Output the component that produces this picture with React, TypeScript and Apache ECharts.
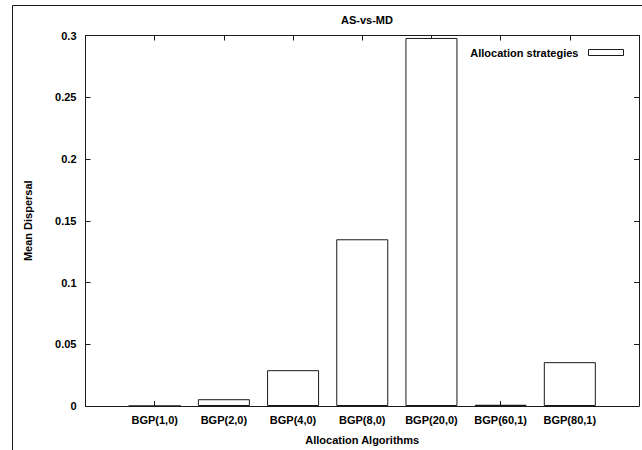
import React, { useEffect, useRef } from "react";
import * as echarts from "echarts";

const categories = ["BGP(1,0)", "BGP(2,0)", "BGP(4,0)", "BGP(8,0)", "BGP(20,0)", "BGP(60,1)", "BGP(80,1)"];
const meanDispersal = [0, 0.0055, 0.029, 0.135, 0.298, 0.001, 0.0355];
const yTicks = [0, 0.05, 0.1, 0.15, 0.2, 0.25, 0.3];
const seriesName = "Allocation strategies";
const titleText = "AS-vs-MD";
const xName = "Allocation Algorithms";
const yName = "Mean Dispersal";

const FONT = "'Liberation Sans', Arial, sans-serif";
const INK = "#1a1a1a";

export default function App() {
  const ref = useRef<HTMLDivElement>(null);
  useEffect(() => {
    if (!ref.current) return;
    const chart = echarts.init(ref.current, undefined, { renderer: "svg" });
    const labelFmt = (v: number) => {
      const i = Math.round(v);
      if (Math.abs(v - i) > 1e-6) return "";
      return categories[i] ?? "";
    };
    const yFmt = (v: number) => {
      const t = yTicks.find((y) => Math.abs(y - v) < 1e-9);
      return t === undefined ? "" : String(t);
    };
    const xCommon = {
      type: "value" as const,
      min: -1,
      max: 7,
      interval: 1,
      splitLine: { show: false },
      axisLine: { show: true, onZero: false, lineStyle: { color: INK, width: 1 } },
      axisTick: { show: true, inside: true, length: 5, lineStyle: { color: INK } },
    };
    const yCommon = {
      type: "value" as const,
      min: 0,
      max: 0.3,
      interval: 0.05,
      splitLine: { show: false },
      axisLine: { show: true, onZero: false, lineStyle: { color: INK, width: 1 } },
      axisTick: { show: true, inside: true, length: 5, lineStyle: { color: INK } },
    };
    chart.setOption({
      animation: false,
      backgroundColor: "#ffffff",
      textStyle: { fontFamily: FONT },
      title: {
        text: titleText,
        left: 362,
        top: 9,
        textAlign: "center",
        textStyle: { fontFamily: FONT, fontSize: 11, fontWeight: "bold", color: "#000" },
      },
      legend: {
        right: 13,
        top: 42,
        align: "right",
        itemWidth: 35,
        itemHeight: 6,
        icon: "rect",
        textStyle: { fontFamily: FONT, fontSize: 11, fontWeight: "bold", color: "#000", padding: [0, 5, 0, 0] },
        data: [{ name: seriesName, itemStyle: { color: "#fff", borderColor: INK, borderWidth: 1 } }],
      },
      grid: { left: 85.5, top: 35.5, right: 3, bottom: 40.5, containLabel: false },
      xAxis: [
        {
          ...xCommon,
          position: "bottom",
          name: xName,
          nameLocation: "middle",
          nameGap: 28,
          nameTextStyle: { fontFamily: FONT, fontSize: 11, fontWeight: "bold", color: "#000" },
          axisLabel: {
            show: true,
            margin: 8,
            formatter: labelFmt,
            showMinLabel: true,
            showMaxLabel: true,
            fontFamily: FONT,
            fontSize: 11,
            fontWeight: "bold",
            color: "#000",
          },
        },
        { ...xCommon, position: "top", axisLabel: { show: false } },
      ],
      yAxis: [
        {
          ...yCommon,
          position: "left",
          name: yName,
          nameLocation: "middle",
          nameGap: 52,
          nameRotate: 90,
          nameTextStyle: { fontFamily: FONT, fontSize: 11, fontWeight: "bold", color: "#000" },
          axisLabel: {
            show: true,
            margin: 9,
            formatter: yFmt,
            fontFamily: FONT,
            fontSize: 11,
            fontWeight: "bold",
            color: "#000",
          },
        },
        { ...yCommon, position: "right", axisLabel: { show: false } },
      ],
      series: [
        {
          name: seriesName,
          type: "bar",
          xAxisIndex: 0,
          yAxisIndex: 0,
          barWidth: 52,
          itemStyle: { color: "#ffffff", borderColor: INK, borderWidth: 1 },
          data: meanDispersal.map((v, i) => [i, v]),
        },
      ],
      graphic: [
        { type: "line", shape: { x1: 12.5, y1: 5.5, x2: 642, y2: 5.5 }, style: { stroke: INK, lineWidth: 1 } },
        { type: "line", shape: { x1: 12.5, y1: 5.5, x2: 12.5, y2: 450 }, style: { stroke: INK, lineWidth: 1 } },
      ],
    });
    return () => chart.dispose();
  }, []);
  return <div ref={ref} style={{ width: 642, height: 450, position: "fixed", left: 0, top: 0 }} />;
}
